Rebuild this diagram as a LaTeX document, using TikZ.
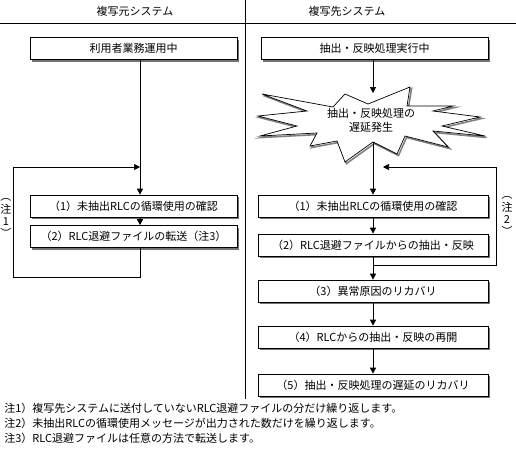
\documentclass[tikz,border=0pt]{standalone}
\usepackage{fontspec}
\setmainfont{Noto Sans CJK JP}
\usetikzlibrary{arrows.meta,shadows}

\newcommand{\burstpath}{(345,94) -- (368,104) -- (410,87) -- (407,106) -- (453,106) -- (433,111)
  -- (480,117) -- (442,126) -- (485,136) -- (433,131) -- (448,147) -- (405,136)
  -- (397,154) -- (373,142) -- (345,162) -- (337,141) -- (310,146) -- (317,133)
  -- (260,136) -- (297,126) -- (258,116) -- (307,111) -- (262,94) -- (333,107) -- cycle}

\begin{document}
\begin{tikzpicture}[x=1pt,y=-1pt,line width=0.7pt,
  every node/.style={font=\fontsize{11}{14}\selectfont, inner sep=1pt},
  stepbox/.style={draw, fill=white, minimum height=22pt, inner sep=0pt,
    drop shadow={shadow xshift=2pt, shadow yshift=-2pt, fill=black!55, opacity=1}},
  flow/.style={-{Triangle[length=6pt,width=6pt]}},
  note/.style={anchor=west, inner sep=0pt}]

\useasboundingbox (0,0) rectangle (516,451);

% Kopfzeile
\draw (0,23) -- (516,23);
\draw (245,0) -- (245,399);
\node (hdrL) at (135,11) {複写元システム};
\node (hdrR) at (347,11) {複写先システム};

% Koordinaten
\coordinate (spineL) at (140,0);
\coordinate (loopL) at (140,167);
\coordinate (burstin) at (373,93);
\coordinate (burstout) at (373,142);
\coordinate (jointR) at (373,265);
\coordinate (loopR) at (383,167);

% Kopiequelle
\node[stepbox, minimum width=207pt] (use) at (133.5,48.5) {利用者業務運用中};
\node[stepbox, minimum width=207pt] (chkL) at (133.5,206) {（1）未抽出RLCの循環使用の確認};
\node[stepbox, minimum width=207pt] (sendL) at (133.5,236.5) {（2）RLC退避ファイルの転送（注3）};

\draw[flow] (use.south -| spineL) -- (chkL.north -| spineL);
\draw[flow] (chkL.south -| spineL) -- (sendL.north -| spineL);
\draw[flow] (sendL.south -| spineL) |- (13,277) |- (loopL);
\node (n1) at (6,218) {\shortstack{︵\\注\\1\\︶}};

% Kopieziel
\node[stepbox, minimum width=227pt] (exec) at (374.5,48.5) {抽出・反映処理実行中};

\begin{scope}[xshift=1.5pt, yshift=-1.5pt]
	\draw[black!50, line width=1.6pt] \burstpath;
\end{scope}
\filldraw[fill=white] \burstpath;
\node[align=center] (burst) at (371,120) {抽出・反映処理の\\遅延発生};

\node[stepbox, minimum width=230pt] (chkR) at (373,206) {（1）未抽出RLCの循環使用の確認};
\node[stepbox, minimum width=230pt] (extR) at (373,245) {（2）RLC退避ファイルからの抽出・反映};
\node[stepbox, minimum width=230pt] (recov) at (373,291) {（3）異常原因のリカバリ};
\node[stepbox, minimum width=230pt] (resume) at (373,337) {（4）RLCからの抽出・反映の再開};
\node[stepbox, minimum width=230pt] (delay) at (373,385) {（5）抽出・反映処理の遅延のリカバリ};

\draw[flow] (exec.south -| burstin) -- (burstin);
\draw[flow] (burstout) -- (chkR.north);
\draw[flow] (chkR) -- (extR);
\draw[flow] (extR) -- (recov);
\draw[flow] (jointR) -| (496,167) -- (loopR);
\draw[flow] (recov) -- (resume);
\draw[flow] (resume) -- (delay);
\node (n2) at (507,216) {\shortstack{︵\\注\\2\\︶}};

% Anmerkungen
\node[note] (note1) at (4,408) {注1）複写先システムに送付していないRLC退避ファイルの分だけ繰り返します。};
\node[note] (note2) at (4,423) {注2）未抽出RLCの循環使用メッセージが出力された数だけを繰り返します。};
\node[note] (note3) at (4,438) {注3）RLC退避ファイルは任意の方法で転送します。};
\end{tikzpicture}
\end{document}
